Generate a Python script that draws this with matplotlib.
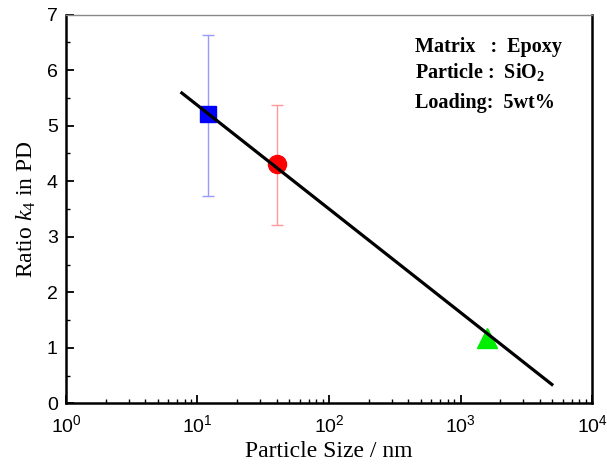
import matplotlib
matplotlib.use("Agg")
import matplotlib.pyplot as plt
from matplotlib.ticker import MultipleLocator, LogLocator, NullFormatter, FuncFormatter
import numpy as np

plt.rcParams["mathtext.fontset"] = "custom"
plt.rcParams["mathtext.rm"] = "Liberation Serif"
plt.rcParams["mathtext.it"] = "Liberation Serif:italic"
plt.rcParams["mathtext.bf"] = "Liberation Serif:bold"

# Data
sizes = [12, 40, 1600]
ratios = [5.22, 4.31, 1.17]
err_low = [3.74, 3.22, None]
err_high = [6.64, 5.37, None]
markers = ["s", "o", "^"]
colors = ["#0000ff", "#ff0000", "#00ee00"]
err_colors = ["#9999ff", "#ff9999", None]
marker_sizes = [12, 13, 15]

fit_x = [7.6, 4950]
fit_y = [5.59, 0.34]

info_lines = ["Matrix   :  Epoxy", "Particle :  SiO$_\\mathregular{2}$", "Loading:  5wt%"]

fig = plt.figure(figsize=(6.07, 4.68), dpi=100)
ax = fig.add_axes([0.1087, 0.1382, 0.8666, 0.8304])

for x, y, lo, hi, m, c, ec, ms in zip(sizes, ratios, err_low, err_high, markers, colors, err_colors, marker_sizes):
    if lo is not None:
        ax.errorbar([x], [y], yerr=[[y - lo], [hi - y]], fmt="none", ecolor=ec,
                    elinewidth=1.0, capsize=4, capthick=1.0, zorder=2)
    ax.plot([x], [y], marker=m, color=c, markersize=ms, linestyle="none", zorder=3)

ax.plot(fit_x, fit_y, color="black", linewidth=2.3, zorder=4)

ax.set_xscale("log")
ax.set_xlim(1, 1e4)
ax.set_ylim(0, 7)
ax.xaxis.set_major_locator(LogLocator(base=10, numticks=10))
ax.xaxis.set_major_formatter(FuncFormatter(lambda v, p: "$\\mathregular{10^{%d}}$" % round(np.log10(v))))
ax.xaxis.set_minor_locator(LogLocator(base=10, subs=range(2, 10), numticks=20))
ax.xaxis.set_minor_formatter(NullFormatter())
ax.yaxis.set_major_locator(MultipleLocator(1))
ax.yaxis.set_minor_locator(MultipleLocator(0.5))

ax.tick_params(axis="both", which="major", direction="in", length=6, width=1.3,
               labelsize=14, top=False, right=False)
ax.tick_params(axis="x", which="major", pad=8)
ax.tick_params(axis="y", which="major", pad=6)
ax.tick_params(axis="both", which="minor", direction="in", length=3, width=1.0,
               top=False, right=False)
for lab in ax.get_xticklabels() + ax.get_yticklabels():
    lab.set_fontfamily("Liberation Sans")

for s in ["left", "bottom", "right"]:
    ax.spines[s].set_linewidth(1.8)
ax.spines["top"].set_linewidth(1.0)
ax.spines["top"].set_color("#888888")

ax.set_xlabel("Particle Size / nm", fontfamily="Liberation Serif", fontsize=17, labelpad=3)
ax.set_ylabel("Ratio $k_\\mathregular{4}$ in PD", fontfamily="Liberation Serif", fontsize=17, labelpad=6)

ys = [0.917, 0.853, 0.773]
for t, yy in zip(info_lines, ys):
    ax.text(0.664, yy, t, transform=ax.transAxes, fontfamily="Liberation Serif",
            fontsize=14.5, fontweight="bold", va="center", ha="left")

fig.savefig("out.png", dpi=100)
